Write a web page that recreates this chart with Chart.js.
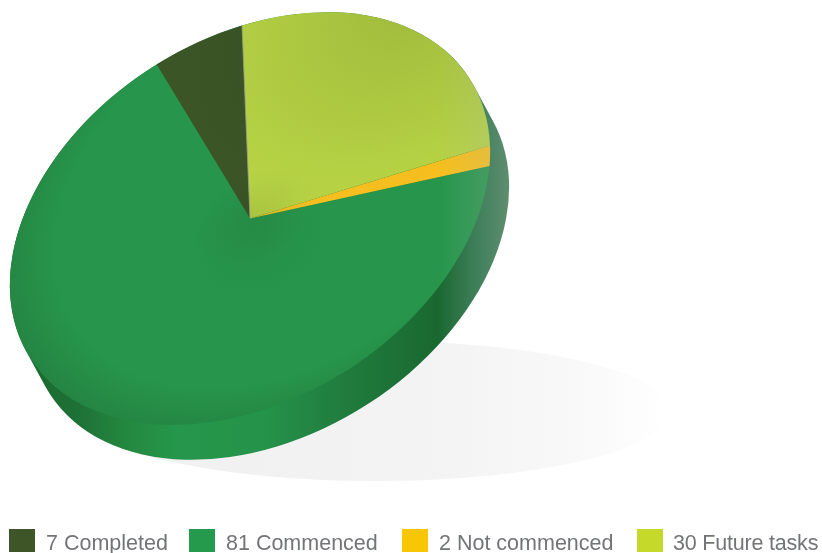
<!DOCTYPE html>
<html>
<head>
<meta charset="utf-8">
<style>
  html, body { margin: 0; padding: 0; background: #fff; }
  #wrap { position: relative; width: 822px; height: 553px; overflow: hidden; }
  #legend { position: absolute; left: 0; top: 529px; white-space: nowrap;
            font: 21.5px "Liberation Sans", Arial, sans-serif; color: #737477; line-height: 29px; }
  #legend div { position: absolute; top: 0; display: flex; }
  #legend div:nth-child(1) { left: 9px; }
  #legend div:nth-child(2) { left: 189px; }
  #legend div:nth-child(3) { left: 402px; }
  #legend div:nth-child(4) { left: 637px; letter-spacing: -0.2px; }
  #legend i { width: 26px; height: 23px; margin-right: 11px; }
  #legend div:nth-child(4) i { margin-right: 10px; }
</style>
<script src="https://cdn.jsdelivr.net/npm/chart.js@4"></script>
</head>
<body>
<div id="wrap"><canvas id="pie" width="822" height="553"></canvas><div id="legend"></div></div>
<script>
// Chart data
const categories = ['Completed', 'Commenced', 'Not commenced', 'Future tasks'];
const taskCounts = [7, 81, 2, 30];
const sliceColors = ['#3c5527', '#27964c', '#f9c11f', '#b9d545'];
const legendColors = ['#3d5527', '#25994c', '#f9c606', '#c4d92a'];

// The tilted disc: centre and the two conjugate radii of the top face
const centre = { x: 250, y: 218.5 };
const axisA = { x: 240, y: -73 };
const axisB = { x: -8, y: -193 };
const depth = { x: 19, y: 35 };

function tilt(ctx, dx = 0, dy = 0) {
    ctx.transform(axisA.x, axisA.y, axisB.x, axisB.y, centre.x + dx, centre.y + dy);
}

function drawShadow(ctx) {
    const g = ctx.createLinearGradient(80, 0, 670, 0);
    g.addColorStop(0, '#f0f0f0');
    g.addColorStop(0.6, '#f3f3f3');
    g.addColorStop(0.85, '#f9f9f9');
    g.addColorStop(1, '#ffffff');
    ctx.fillStyle = g;
    ctx.beginPath();
    ctx.ellipse(375, 411, 295, 70, 0, 0, Math.PI * 2);
    ctx.fill();
}

function drawSide(ctx) {
    const g = ctx.createLinearGradient(30, 0, 510, 0);
    g.addColorStop(0, '#1b6a30');
    g.addColorStop(0.1, '#1e7136');
    g.addColorStop(0.2, '#23883f');
    g.addColorStop(0.3, '#25964b');
    g.addColorStop(0.48, '#25944a');
    g.addColorStop(0.62, '#218040');
    g.addColorStop(0.85, '#1a6830');
    g.addColorStop(0.93, '#3f7f5a');
    g.addColorStop(1, '#5f8e70');
    ctx.beginPath();
    const steps = depth.y * 2;
    for (let i = 0; i <= steps; i++) {
        ctx.save();
        tilt(ctx, depth.x * i / steps, depth.y * i / steps);
        ctx.moveTo(1, 0);
        ctx.arc(0, 0, 1, 0, Math.PI * 2);
        ctx.restore();
    }
    ctx.fillStyle = g;
    ctx.fill();
}

function spot(ctx, x, y, r0, r1, alpha) {
    const g = ctx.createRadialGradient(x, y, r0, x, y, r1);
    g.addColorStop(0, 'rgba(20,40,10,' + (r0 > 0 ? 0 : alpha) + ')');
    g.addColorStop(1, 'rgba(20,40,10,' + (r0 > 0 ? alpha : 0) + ')');
    ctx.fillStyle = g;
    ctx.fillRect(-1.5, -1.5, 3, 3);
}

function drawShading(ctx) {
    ctx.save();
    tilt(ctx);
    ctx.beginPath();
    ctx.arc(0, 0, 1, 0, Math.PI * 2);
    ctx.clip();
    spot(ctx, 0.15, 0.1, 0.95, 1.25, 0.2);  // lower left edge
    spot(ctx, 0.7, 0.85, 0, 1, 0.15);       // olive patch top right
    spot(ctx, 0.05, -0.135, 0, 0.35, 0.05); // dark spot under the apex
    spot(ctx, 0, 0, 0, 0.25, 0.07);         // apex itself
    ctx.restore();

    // washed out right rim
    ctx.save();
    tilt(ctx);
    ctx.beginPath();
    ctx.arc(0, 0, 1, 0, Math.PI * 2);
    ctx.restore();
    const rim = ctx.createLinearGradient(440, 0, 490, 0);
    rim.addColorStop(0, 'rgba(170,180,175,0)');
    rim.addColorStop(1, 'rgba(170,180,175,0.22)');
    ctx.fillStyle = rim;
    ctx.fill();
}

// Thin grey seam between Completed and Future tasks
function drawSeam(ctx, arc) {
    ctx.save();
    tilt(ctx);
    const a = arc.startAngle;
    ctx.beginPath();
    ctx.moveTo(0, 0);
    ctx.lineTo(Math.cos(a), Math.sin(a));
    ctx.restore();
    ctx.strokeStyle = 'rgba(150,155,140,0.8)';
    ctx.lineWidth = 1;
    ctx.stroke();
}

const discPlugin = {
    id: 'disc',
    beforeDatasetsDraw(chart) {
        const ctx = chart.ctx;
        drawShadow(ctx);
        drawSide(ctx);
        // squash the library's round pie onto the tilted top face
        const arc = chart.getDatasetMeta(0).data[0];
        const r = arc.outerRadius;
        ctx.save();
        ctx.transform(axisA.x / r, axisA.y / r, axisB.x / r, axisB.y / r, centre.x, centre.y);
        ctx.translate(-arc.x, -arc.y);
    },
    afterDatasetsDraw(chart) {
        const ctx = chart.ctx;
        ctx.restore();
        drawShading(ctx);
        drawSeam(ctx, chart.getDatasetMeta(0).data[0]);
    }
};

new Chart(document.getElementById('pie'), {
    type: 'pie',
    data: {
        labels: categories,
        datasets: [{
            data: taskCounts,
            backgroundColor: sliceColors,
            borderWidth: 0,
            clip: false
        }]
    },
    options: {
        responsive: false,
        animation: false,
        rotation: 180,
        plugins: {
            tooltip: { enabled: false },
            legend: { display: false }
        }
    },
    plugins: [discPlugin]
});

// Legend row
const legend = document.getElementById('legend');
categories.forEach((name, i) => {
    const item = document.createElement('div');
    item.innerHTML = `<i style="background:${legendColors[i]}"></i><span>${taskCounts[i]} ${name}</span>`;
    legend.appendChild(item);
});
</script>
</body>
</html>
